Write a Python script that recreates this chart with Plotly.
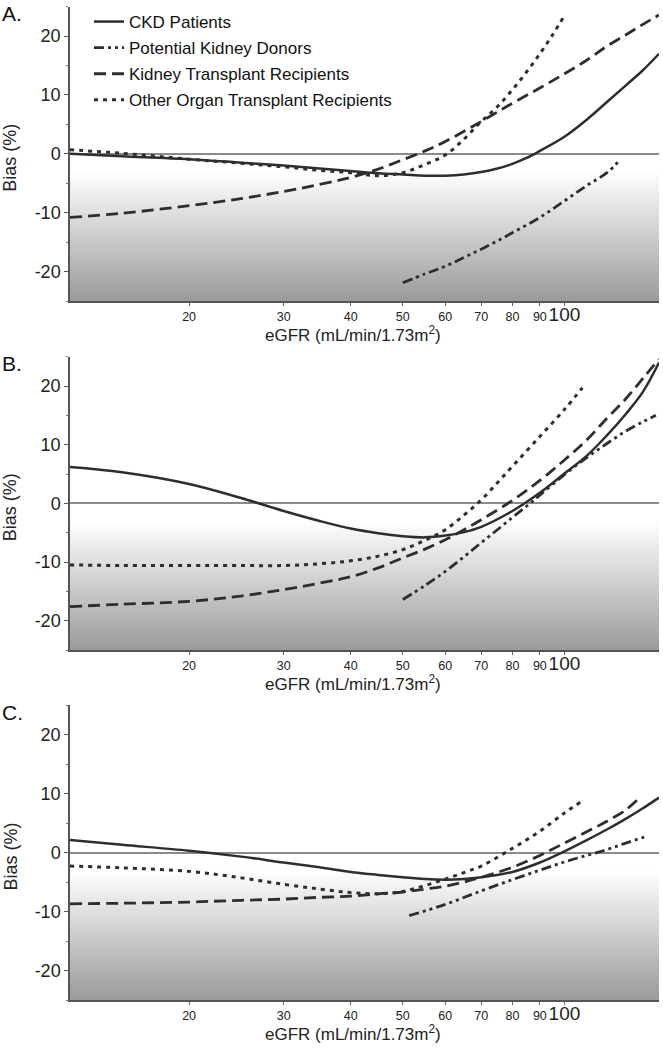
import plotly.graph_objects as go

# ---------------- data ----------------
# Panel A
a_ckd_x = [12, 15, 20, 25, 30, 35, 40, 45, 50, 55, 60, 65, 70, 75, 80, 85, 90, 100, 110, 120, 130, 140, 150]
a_ckd_y = [0.0, -0.4, -0.9, -1.5, -2.0, -2.5, -2.9, -3.3, -3.5, -3.7, -3.7, -3.5, -3.1, -2.5, -1.7, -0.7, 0.5, 2.9, 5.8, 8.8, 11.6, 14.2, 17.0]
a_pkd_x = [50, 55, 60, 65, 70, 75, 80, 90, 100, 110, 120, 127]
a_pkd_y = [-21.9, -20.4, -19.1, -17.6, -16.2, -14.8, -13.4, -10.8, -8.0, -5.4, -3.2, -1.0]
a_ktr_x = [12, 15, 20, 25, 30, 35, 40, 45, 50, 55, 60, 70, 80, 90, 100, 110, 120, 130, 140, 150]
a_ktr_y = [-10.8, -10.1, -8.8, -7.6, -6.4, -5.2, -4.0, -2.6, -1.0, 0.5, 2.1, 5.5, 8.6, 11.2, 13.6, 15.9, 18.3, 20.2, 22.0, 23.6]
a_oot_x = [12, 15, 20, 25, 30, 35, 40, 45, 50, 55, 60, 65, 70, 75, 80, 85, 90, 95, 100]
a_oot_y = [0.7, 0.1, -0.9, -1.6, -2.2, -2.8, -3.2, -3.7, -3.2, -1.8, -0.2, 2.5, 5.5, 8.0, 10.9, 13.9, 17.0, 20.2, 23.5]

# Panel B
b_ckd_x = [12, 15, 20, 25, 30, 35, 40, 45, 50, 55, 60, 65, 70, 80, 90, 100, 110, 120, 130, 140, 150]
b_ckd_y = [6.2, 5.3, 3.3, 0.9, -1.3, -3.0, -4.3, -5.1, -5.6, -5.8, -5.5, -4.9, -4.0, -1.3, 1.8, 5.1, 8.1, 11.6, 15.2, 19.0, 24.0]
b_pkd_x = [50, 55, 60, 65, 70, 75, 80, 85, 90, 100, 110, 120, 130, 140, 148]
b_pkd_y = [-16.4, -14.0, -11.6, -9.1, -6.7, -4.5, -2.4, -0.5, 1.4, 4.9, 7.8, 10.2, 12.3, 13.9, 15.0]
b_ktr_x = [12, 15, 20, 25, 30, 35, 40, 45, 50, 55, 60, 65, 70, 80, 90, 100, 110, 120, 130, 140, 150]
b_ktr_y = [-17.6, -17.2, -16.7, -15.8, -14.7, -13.6, -12.5, -11.0, -9.3, -7.8, -6.2, -4.5, -2.8, 0.5, 3.9, 7.4, 10.8, 14.5, 17.8, 21.3, 24.6]
b_oot_x = [12, 15, 20, 25, 30, 35, 40, 45, 50, 55, 60, 65, 70, 75, 80, 90, 100, 108]
b_oot_y = [-10.5, -10.6, -10.6, -10.6, -10.6, -10.3, -9.8, -9.0, -7.9, -6.3, -4.5, -2.0, 0.6, 3.5, 6.3, 11.4, 16.0, 19.7]

# Panel C
c_ckd_x = [12, 15, 20, 25, 30, 35, 40, 45, 50, 55, 60, 65, 70, 80, 90, 100, 110, 120, 130, 140, 150]
c_ckd_y = [2.1, 1.3, 0.3, -0.7, -1.7, -2.5, -3.3, -3.8, -4.2, -4.5, -4.6, -4.5, -4.2, -3.3, -1.7, 0.2, 2.1, 3.9, 5.7, 7.5, 9.3]
c_pkd_x = [51.4, 60, 70, 80, 90, 100, 110, 120, 130, 143]
c_pkd_y = [-10.7, -8.8, -6.5, -4.6, -3.0, -1.6, -0.5, 0.5, 1.6, 2.8]
c_ktr_x = [12, 15, 20, 25, 30, 35, 40, 45, 50, 55, 60, 65, 70, 80, 90, 100, 110, 120, 130, 138]
c_ktr_y = [-8.7, -8.6, -8.4, -8.1, -7.9, -7.6, -7.4, -7.0, -6.7, -6.2, -5.7, -5.0, -4.2, -2.5, -0.5, 1.6, 3.5, 5.3, 7.2, 9.3]
c_oot_x = [12, 15, 20, 25, 30, 35, 40, 45, 50, 55, 60, 65, 70, 80, 90, 100, 107]
c_oot_y = [-2.3, -2.6, -3.2, -4.3, -5.4, -6.2, -6.8, -7.0, -6.6, -5.6, -4.5, -3.4, -2.3, 0.7, 3.6, 6.7, 8.5]

series_names = ["CKD Patients", "Potential Kidney Donors",
                "Kidney Transplant Recipients", "Other Organ Transplant Recipients"]
panel_labels = ["A.", "B.", "C."]
x_tick_vals = [20, 30, 40, 50, 60, 70, 80, 90, 100]
y_tick_vals = [-20, -10, 0, 10, 20]
y_tick_text = ["-20", "-10", "0", "10", "20"]
x_title = "eGFR (mL/min/1.73m<sup>2</sup>)"
y_title = "Bias (%)"

panels = [
    [(a_ckd_x, a_ckd_y), (a_pkd_x, a_pkd_y), (a_ktr_x, a_ktr_y), (a_oot_x, a_oot_y)],
    [(b_ckd_x, b_ckd_y), (b_pkd_x, b_pkd_y), (b_ktr_x, b_ktr_y), (b_oot_x, b_oot_y)],
    [(c_ckd_x, c_ckd_y), (c_pkd_x, c_pkd_y), (c_ktr_x, c_ktr_y), (c_oot_x, c_oot_y)],
]

# ---------------- styling ----------------
W, H = 663, 1050
FONT = "Liberation Sans, Arial, sans-serif"
line_color = "#2e2e2e"
dashes = ["solid", "10px,4px,3px,4px,3px,4px", "12px,6px", "4px,5px"]
widths = [2.5, 2.8, 2.8, 3.0]

# pixel geometry of the panels (top, bottom)
panel_px = [(6.7, 301), (356.7, 650), (705, 1000)]
x_left_px, x_right_px = 70, 659

fig = go.Figure()
shapes = []
annotations = []

for p, series in enumerate(panels):
    xa = "x" if p == 0 else f"x{p+1}"
    ya = "y" if p == 0 else f"y{p+1}"
    for s, (xs, ys) in enumerate(series):
        fig.add_trace(go.Scatter(
            x=xs, y=ys, mode="lines", line_shape="spline",
            line=dict(color=line_color, width=widths[s], dash=dashes[s], smoothing=1.0),
            name=series_names[s], showlegend=(p == 0), legendgroup=f"g{s}",
            xaxis=xa, yaxis=ya, hoverinfo="skip"))

    top, bot = panel_px[p]
    dom = [1 - bot / H, 1 - top / H]
    xkey = "xaxis" if p == 0 else f"xaxis{p+1}"
    ykey = "yaxis" if p == 0 else f"yaxis{p+1}"
    ticktext = [str(v) if v != 100 else "<span style='font-size:19px'>100</span>" for v in x_tick_vals]
    fig.layout[xkey] = dict(
        type="log", range=[1.0792, 2.1761], domain=[x_left_px / W, x_right_px / W],
        anchor=ya, tickvals=x_tick_vals, ticktext=ticktext, automargin=False, tickangle=0,
        tickfont=dict(family=FONT, size=12.5, color="#222"),
        ticks="outside", ticklen=3, tickcolor="#666",
        showline=True, linecolor="#555", linewidth=1.5, mirror=False,
        showgrid=False, zeroline=False)
    fig.layout[ykey] = dict(
        range=[-25, 25], domain=dom, anchor=xa, automargin=False,
        tickvals=y_tick_vals, ticktext=y_tick_text,
        tickfont=dict(family=FONT, size=18, color="#222"),
        ticks="outside", ticklen=4, tickcolor="#555",
        minor=dict(dtick=5, tick0=0, ticks="outside", ticklen=2, tickcolor="#777"),
        showline=True, linecolor="#555", linewidth=1.5,
        showgrid=False, zeroline=True, zerolinecolor="#8a8a8a", zerolinewidth=1.5)

    # gradient shading below zero
    n = 44
    y_start, y_end = -3.0, -25.0
    step = (y_end - y_start) / n
    for i in range(n):
        y0 = y_start + step * i
        y1 = y_start + step * (i + 1) + step * 0.6  # overlap to avoid seams
        t = (i + 0.5) / n
        v = int(round(255 - (255 - 154) * t))
        shapes.append(dict(type="rect", xref=f"{xa} domain", yref=ya,
                           x0=0, x1=1, y0=y0, y1=max(y1, y_end), layer="below",
                           line=dict(width=0), fillcolor=f"rgb({v},{v},{v})"))

    # panel letter
    annotations.append(dict(text=panel_labels[p], x=0, y=1 - (top + 7) / H,
                            xref="paper", yref="paper", xanchor="left", yanchor="middle",
                            showarrow=False, font=dict(family=FONT, size=21, color="#111")))
    # y title
    zero_px = top + (bot - top) / 2
    annotations.append(dict(text=y_title, x=10 / W, y=1 - (zero_px + 4) / H,
                            xref="paper", yref="paper", xanchor="center", yanchor="middle",
                            textangle=-90, showarrow=False,
                            font=dict(family=FONT, size=18, color="#222")))
    # x title
    annotations.append(dict(text=x_title, x=353 / W, y=1 - (bot + 33) / H,
                            xref="paper", yref="paper", xanchor="center", yanchor="middle",
                            showarrow=False, font=dict(family=FONT, size=17, color="#222")))

fig.update_layout(
    width=W, height=H, margin=dict(l=0, r=0, t=0, b=0, autoexpand=False),
    paper_bgcolor="white", plot_bgcolor="white",
    shapes=shapes, annotations=annotations,
    legend=dict(x=89 / W, y=1 - 4 / H, xanchor="left", yanchor="top",
                bgcolor="rgba(0,0,0,0)", font=dict(family=FONT, size=17, color="#111"),
                itemwidth=30, tracegroupgap=1),
    showlegend=True,
)

fig.write_html("out.html", config={"displayModeBar": False},
               post_script="document.body.style.margin='0';document.body.style.overflow='hidden';")
